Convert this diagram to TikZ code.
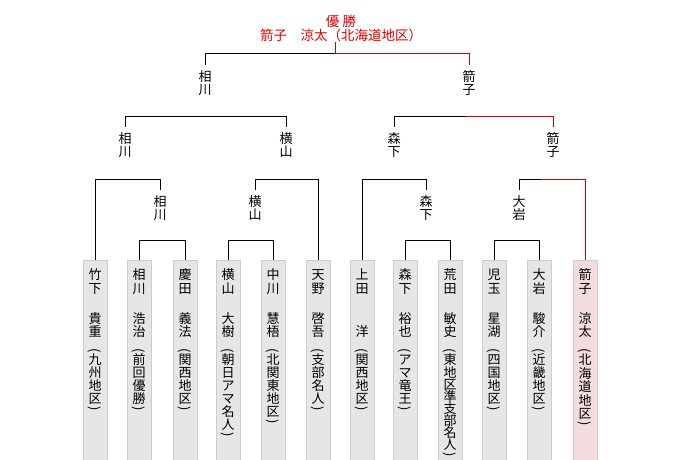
\documentclass[tikz,border=0pt]{standalone}
\usepackage{fontspec}
\usepackage{graphicx}
\setmainfont{Noto Sans CJK JP}
\definecolor{win}{RGB}{221,0,0}
\definecolor{boxg}{RGB}{230,230,230}
\definecolor{boxgl}{RGB}{204,204,204}
\definecolor{boxp}{RGB}{243,220,221}
\definecolor{boxpl}{RGB}{226,196,198}
\newcommand\C[1]{\hbox to 14pt{\hss\smash{#1}\hss}\kern\cp}
\newcommand\Pa[1]{\hbox to 14pt{\hss\smash{\rotatebox[origin=c]{-90}{#1}}\hss}}
\def\each#1{\ifx\relax#1\else\C{#1}\expandafter\each\fi}
\newcommand\entry[4][13pt]{\vbox{\offinterlineskip
  \def\cp{14pt}\each#2\relax
  \kern16.7pt\def\cp{13pt}\each#3\relax
  \kern5pt\Pa{(}\kern10pt
  \def\cp{#1}\each#4\relax\kern-#1\kern9.2pt\Pa{)}}}
\tikzset{
  lbl/.style={font=\fontsize{13}{13.5}\selectfont, align=center, inner xsep=0pt, inner ysep=5pt, anchor=north},
  cell/.style={draw=boxgl, fill=boxg, minimum width=24pt, minimum height=200pt, anchor=north, inner sep=0pt},
  wcell/.style={cell, draw=boxpl, fill=boxp},
  ptxt/.style={font=\fontsize{13}{13}\selectfont, inner sep=0pt, anchor=north},
  ln/.style={line width=1pt, draw=black},
  wln/.style={line width=1pt, draw=win}
}
\begin{document}
\begin{tikzpicture}[x=1pt,y=-1pt]
\useasboundingbox (0,0) rectangle (680,460);
% champion
\node[font=\fontsize{13.5}{14.5}\selectfont, text=win, align=center, inner sep=0pt, anchor=south] (champ) at (341,42)
  {優 勝\\箭子　涼太（北海道地区）};
% boxes
\node[cell] (b1) at (95,260) {};
\node[cell] (b2) at (139,260) {};
\node[cell] (b3) at (185,260) {};
\node[cell] (b4) at (228,260) {};
\node[cell] (b5) at (273,260) {};
\node[cell] (b6) at (318,260) {};
\node[cell] (b7) at (362,260) {};
\node[cell] (b8) at (405,260) {};
\node[cell] (b9) at (450,260) {};
\node[cell] (b10) at (494,260) {};
\node[cell] (b11) at (539,260) {};
\node[wcell] (b12) at (585,260) {};
% player texts
\node[ptxt] (t1) at ([yshift=-19pt]b1.north) {\entry{竹下}{貴重}{九州地区}};
\node[ptxt] (t2) at ([yshift=-19pt]b2.north) {\entry{相川}{浩治}{前回優勝}};
\node[ptxt] (t3) at ([yshift=-19pt]b3.north) {\entry{慶田}{義法}{関西地区}};
\node[ptxt] (t4) at ([yshift=-19pt]b4.north) {\entry{横山}{大樹}{朝日アマ名人}};
\node[ptxt] (t5) at ([yshift=-19pt]b5.north) {\entry{中川}{慧梧}{北関東地区}};
\node[ptxt] (t6) at ([yshift=-19pt]b6.north) {\entry{天野}{啓吾}{支部名人}};
\node[ptxt] (t7) at ([yshift=-19pt]b7.north) {\entry{上田}{　洋}{関西地区}};
\node[ptxt] (t8) at ([yshift=-19pt]b8.north) {\entry{森下}{裕也}{アマ竜王}};
\node[ptxt] (t9) at ([yshift=-19pt]b9.north) {\entry[12.1pt]{荒田}{敏史}{東地区準支部名人}};
\node[ptxt] (t10) at ([yshift=-19pt]b10.north) {\entry{児玉}{星湖}{四国地区}};
\node[ptxt] (t11) at ([yshift=-19pt]b11.north) {\entry{大岩}{駿介}{近畿地区}};
\node[ptxt] (t12) at ([yshift=-19pt]b12.north) {\entry[13.4pt]{箭子}{涼太}{北海道地区}};
% winner labels
\node[lbl] (f1) at (205,65) {相\\川};
\node[lbl] (f2) at (469,65) {箭\\子};
\node[lbl] (s1) at (125,127) {相\\川};
\node[lbl] (s2) at (286,127) {横\\山};
\node[lbl] (s3) at (394,127) {森\\下};
\node[lbl] (s4) at (553,127) {箭\\子};
\node[lbl] (q1) at (160,190) {相\\川};
\node[lbl] (q2) at (255,190) {横\\山};
\node[lbl] (q3) at (426,190) {森\\下};
\node[lbl] (q4) at (519,190) {大\\岩};
% level coordinates
\coordinate (fin) at (335,54);
\coordinate (h2) at (0,116);
\coordinate (sr) at (466,116);
\coordinate (h3) at (0,179);
\coordinate (qr) at (541,179);
\coordinate (h4) at (0,240);
% final
\draw[wln] (champ.south -| fin) -- (fin);
\draw[ln] (f1.north) |- (fin);
\draw[wln] (fin) -| (f2.north);
% semifinals
\draw[ln] (s1.north) -- (s1.north |- h2) -- (s2.north |- h2) -- (s2.north);
\draw[ln] (s3.north) |- (sr);
\draw[wln] (sr) -| (s4.north);
% quarterfinals
\draw[ln] (b1.north) -- (b1.north |- h3) -- (q1.north |- h3) -- (q1.north);
\draw[ln] (q2.north) -- (q2.north |- h3) -- (b6.north |- h3) -- (b6.north);
\draw[ln] (b7.north) -- (b7.north |- h3) -- (q3.north |- h3) -- (q3.north);
\draw[ln] (q4.north) |- (qr);
\draw[wln] (qr) -| (b12.north);
% first round
\draw[ln] (b2.north) -- (b2.north |- h4) -- (b3.north |- h4) -- (b3.north);
\draw[ln] (b4.north) -- (b4.north |- h4) -- (b5.north |- h4) -- (b5.north);
\draw[ln] (b8.north) -- (b8.north |- h4) -- (b9.north |- h4) -- (b9.north);
\draw[ln] (b10.north) -- (b10.north |- h4) -- (b11.north |- h4) -- (b11.north);
\end{tikzpicture}
\end{document}
